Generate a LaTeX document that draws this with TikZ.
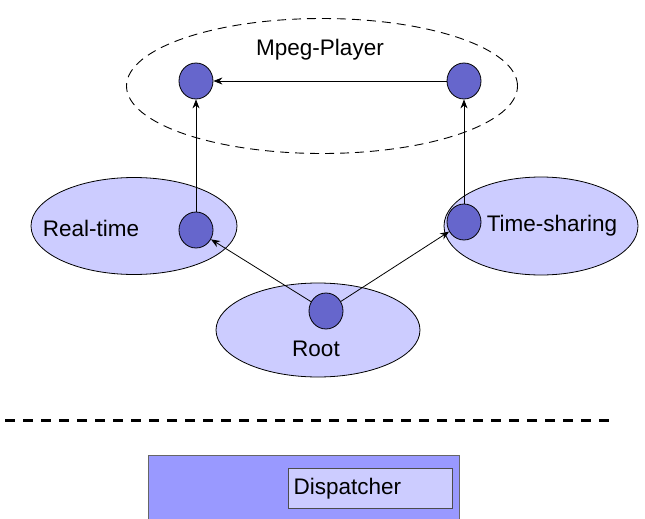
\documentclass[tikz,border=0pt]{standalone}
\usepackage{fontspec}
\setmainfont{Liberation Sans}
\usetikzlibrary{arrows.meta, shapes.geometric, positioning}
\definecolor{lavender}{HTML}{CCCCFF}
\definecolor{dotblue}{HTML}{6666CC}
\definecolor{boxblue}{HTML}{9999FF}

\begin{document}
\begin{tikzpicture}[x=1pt, y=-1pt, font=\fontsize{22.5}{25}\selectfont]
    \tikzset{
        schedarea/.style={ellipse, draw, fill=lavender, inner sep=0pt, line width=0.8pt},
        thread/.style={ellipse, draw, fill=dotblue, inner sep=0pt, minimum width=34pt, minimum height=36pt, line width=0.8pt},
        arr/.style={->, >={Stealth[length=9pt, width=7pt]}, line width=0.8pt}
    }
    \useasboundingbox (0,0) rectangle (645,519);

    % Mpeg-Player (dashed group)
    \node[ellipse, draw, line width=0.9pt, dash pattern=on 9pt off 6pt, minimum width=391pt, minimum height=135pt] (mpeg) at (322,86) {};
    \node (mpeglabel) at (320,50) {Mpeg-Player};
    \node[thread] (mpA) at (196,81) {};
    \node[thread] (mpB) at (464,81) {};

    % Scheduling areas
    \node[schedarea, minimum width=206pt, minimum height=97pt] (rt) at (134,226) {};
    \node[schedarea, minimum width=194pt, minimum height=98pt] (ts) at (541,226) {};
    \node[schedarea, minimum width=204pt, minimum height=94pt] (root) at (318,330) {};
    \node (rtlabel) at (91,228) {Real-time};
    \node (tslabel) at (552,226) {Time-sharing};
    \node (rootlabel) at (316,349) {Root};

    % Threads inside the areas
    \node[thread] (rtdot) at (196,230) {};
    \node[thread] (tsdot) at (464,222) {};
    \node[thread] (rootdot) at (326,311) {};

    % Connectors
    \draw[arr] (rootdot) -- (rtdot);
    \draw[arr] (rootdot) -- (tsdot);
    \draw[arr] (rtdot) -- (mpA);
    \draw[arr] (tsdot) -- (mpB);
    \draw[arr] (mpB) -- (mpA);

    % Kernel boundary
    \draw[line width=3pt, dash pattern=on 10pt off 8pt] (5,420) -- (612,420);

    % Dispatcher
    \node[draw=gray!80!black, fill=boxblue, anchor=north west, minimum width=311pt, minimum height=90pt, line width=0.8pt] (kernel) at (148,455) {};
    \node[draw=gray!60!black, fill=lavender, minimum width=164pt, minimum height=40pt, line width=0.8pt, inner sep=0pt] (disp) at (370,488) {};
    \node[anchor=west] (displabel) at (290,489) {Dispatcher};
\end{tikzpicture}
\end{document}
